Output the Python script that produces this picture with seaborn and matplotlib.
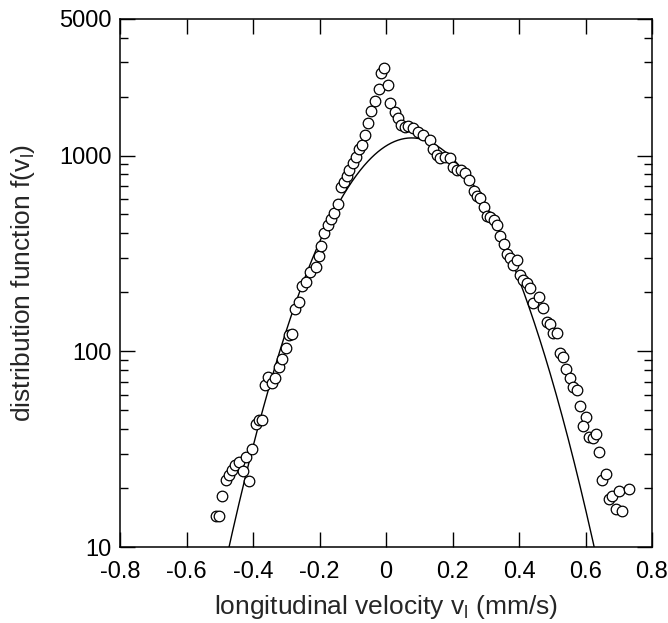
import numpy as np
import pandas as pd
import matplotlib
matplotlib.use("Agg")
import matplotlib.pyplot as plt
import seaborn as sns
from matplotlib.ticker import FixedLocator, NullFormatter

# ---- data ----
velocity = [
    -0.511, -0.501, -0.492, -0.482, -0.471, -0.463, -0.453, -0.443, -0.431, -0.421,
    -0.413, -0.403, -0.391, -0.381, -0.373, -0.363, -0.354, -0.342, -0.333, -0.323,
    -0.313, -0.301, -0.291, -0.283, -0.273, -0.263, -0.252, -0.242, -0.230, -0.212,
    -0.202, -0.195, -0.185, -0.175, -0.165, -0.155, -0.145, -0.135, -0.125, -0.117,
    -0.110, -0.100, -0.090, -0.080, -0.072, -0.062, -0.055, -0.045, -0.032, -0.022,
    -0.014, -0.005, 0.005, 0.013, 0.026, 0.036, 0.046, 0.056, 0.066, 0.081,
    0.096, 0.111, 0.131, 0.141, 0.153, 0.163, 0.176, 0.191, 0.201, 0.213,
    0.227, 0.239, 0.251, 0.264, 0.273, 0.284, 0.294, 0.304, 0.314, 0.324,
    0.334, 0.344, 0.354, 0.364, 0.374, 0.382, 0.393, 0.403, 0.412, 0.423,
    0.433, 0.442, 0.461, 0.473, 0.483, 0.492, 0.502, 0.513, 0.523, 0.533,
    0.542, 0.552, 0.562, 0.573, 0.582, 0.603, 0.592, 0.612, 0.622, 0.633,
    0.642, 0.651, 0.661, 0.671, 0.681, 0.691, 0.701, 0.711, 0.731,
]
distribution = [
    14.4, 14.4, 18.3, 22.1, 23.2, 24.7, 26.1, 27.3, 24.5, 28.7,
    21.7, 31.7, 42.5, 44.3, 44.5, 67.2, 73.9, 68.8, 73.0, 83.4,
    91.8, 104, 121, 122.5, 164, 179, 215, 227, 255, 268,
    307, 343, 400, 442, 472, 507, 565, 693, 735, 785,
    843, 912, 986, 1076, 1132, 1273, 1471, 1694, 1905, 2178,
    2630, 2788, 2291, 1849, 1674, 1549, 1432, 1403, 1415, 1377,
    1323, 1273, 1200, 1076, 1006, 968, 986, 968, 871, 843,
    843, 817, 750, 661, 621, 604, 547, 491, 483, 468,
    442, 388, 353, 314, 301, 276, 292, 245, 231, 222,
    210, 176, 190, 166, 141, 137, 124, 124, 98, 93.5,
    80.7, 72.6, 65.3, 63.6, 52.5, 46.3, 41.5, 36.6, 35.9, 37.8,
    30.7, 22.0, 23.7, 17.5, 18.2, 15.7, 19.3, 15.2, 19.8,
]

# Gaussian fit drawn as the solid curve
fit_amplitude = 1230.0
fit_center = 0.077
fit_sigma = 0.177

x_ticks = [-0.8, -0.6, -0.4, -0.2, 0.0, 0.2, 0.4, 0.6, 0.8]
x_tick_labels = ["-0.8", "-0.6", "-0.4", "-0.2", "0", "0.2", "0.4", "0.6", "0.8"]
y_ticks = [10, 100, 1000, 5000]
y_tick_labels = ["10", "100", "1000", "5000"]
y_minor_ticks = [20, 30, 40, 50, 60, 70, 80, 90,
                 200, 300, 400, 500, 600, 700, 800, 900,
                 2000, 3000, 4000]

x_label = r"longitudinal velocity v$_\mathregular{l}$ (mm/s)"
y_label = r"distribution function f(v$_\mathregular{l}$)"

# ---- style ----
sns.set_style("ticks")
plt.rcParams["font.family"] = ["Liberation Sans", "DejaVu Sans"]
plt.rcParams["mathtext.fontset"] = "custom"
plt.rcParams["mathtext.rm"] = "Liberation Sans"
plt.rcParams["axes.unicode_minus"] = False

points = pd.DataFrame({"v": velocity, "f": distribution})
v_grid = np.linspace(-0.8, 0.8, 801)
curve = pd.DataFrame({
    "v": v_grid,
    "f": fit_amplitude * np.exp(-(v_grid - fit_center) ** 2 / (2 * fit_sigma ** 2)),
})

fig = plt.figure(figsize=(6.68, 6.23), dpi=100)
ax = fig.add_axes([120 / 668, 1 - 547 / 623, 532 / 668, (547 - 18.7) / 623])

sns.lineplot(data=curve, x="v", y="f", ax=ax, color="black", linewidth=1.0,
             zorder=2, legend=False)
sns.scatterplot(data=points, x="v", y="f", ax=ax, marker="o", s=58,
                facecolor="white", edgecolor="black", linewidth=0.9,
                zorder=3, legend=False)

ax.set_yscale("log")
ax.set_xlim(-0.8, 0.8)
ax.set_ylim(10, 5000)

ax.set_xticks(x_ticks)
ax.set_xticklabels(x_tick_labels)
ax.yaxis.set_major_locator(FixedLocator(y_ticks))
ax.set_yticklabels(y_tick_labels)
ax.yaxis.set_minor_locator(FixedLocator(y_minor_ticks))
ax.yaxis.set_minor_formatter(NullFormatter())

ax.tick_params(which="both", direction="in", top=True, right=True,
               width=1.0, colors="black")
ax.tick_params(which="major", length=10.5, labelsize=17)
ax.tick_params(axis="x", which="major", pad=10)
ax.tick_params(axis="y", which="major", pad=6)
ax.tick_params(which="minor", length=5.5)

for sp in ax.spines.values():
    sp.set_linewidth(1.1)
    sp.set_color("black")

ax.set_xlabel(x_label, fontsize=19, labelpad=7)
ax.set_ylabel(y_label, fontsize=19, labelpad=16)

fig.savefig("out.png", dpi=100)
